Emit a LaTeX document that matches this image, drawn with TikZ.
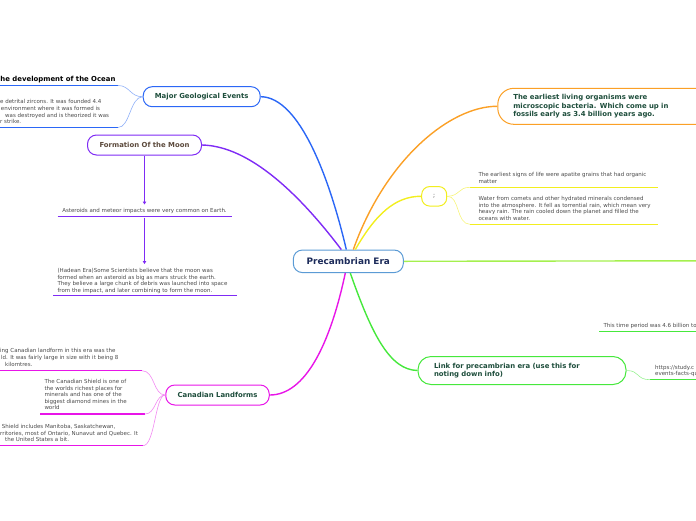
\documentclass[tikz,border=0pt]{standalone}
\usepackage{fontspec}
\setmainfont{DejaVu Sans}
\usetikzlibrary{arrows.meta}
\definecolor{navy}{HTML}{1C2B5A}
\definecolor{cborder}{HTML}{5B9BD5}
\definecolor{tgreen}{HTML}{1D4D3B}
\definecolor{tbrown}{HTML}{5C4A3C}
\definecolor{tgray}{HTML}{4A4A4A}
\definecolor{cblue}{HTML}{2B67F6}
\definecolor{lblue}{HTML}{8FB0F8}
\definecolor{cpurple}{HTML}{7F2BF5}
\definecolor{cmag}{HTML}{E815E8}
\definecolor{lmag}{HTML}{F28AF2}
\definecolor{corange}{HTML}{FBA026}
\definecolor{cyellow}{HTML}{F2EE1F}
\definecolor{lyellow}{HTML}{F7F47A}
\definecolor{clime}{HTML}{A5F04E}
\definecolor{cgreen}{HTML}{46E83C}
\definecolor{lgreen}{HTML}{9AF294}
\begin{document}
\begin{tikzpicture}[x=1pt,y=-1pt,
  topic/.style={draw, rounded corners=9pt, fill=white, line width=1pt,
    font=\bfseries\fontsize{6.9}{8.3}\selectfont, text=tgreen, inner sep=0},
  small/.style={font=\fontsize{5.5}{6.5}\selectfont, text=tgray, inner sep=0, align=left},
  conn/.style={line width=1.4pt},
  subconn/.style={line width=0.6pt},
  uline/.style={line width=1.4pt},
  arr/.style={line width=0.9pt, cpurple, -{Triangle[length=3pt,width=3.5pt]}}]
\useasboundingbox (0,0) rectangle (696,520);
\clip (0,0) rectangle (696,520);

% central node
\node[topic, draw=cborder, text=navy, minimum width=110pt, minimum height=22.5pt,
  font=\bfseries\fontsize{8.9}{10}\selectfont] (c) at (348.3,261.3) {Precambrian Era};

% main topics
\node[topic, draw=cblue, minimum width=117pt, minimum height=20pt] (mge) at (201.7,96.7) {Major Geological Events};
\node[topic, draw=cpurple, text=tbrown, minimum width=114pt, minimum height=20pt] (moon) at (144.5,145) {Formation Of the Moon};
\node[topic, draw=cmag, minimum width=103.5pt, minimum height=20pt] (can) at (217.5,395) {Canadian Landforms};
\node[topic, draw=corange, anchor=west, text width=185pt, inner xsep=15.5pt, minimum height=36pt,
  rounded corners=16pt, align=left, font=\bfseries\fontsize{6.9}{8.5}\selectfont] (org) at (497.3,106.3)
  {The earliest living organisms were\\microscopic bacteria. Which come up in\\fossils early as 3.4 billion years ago.};
\node[topic, draw=cyellow, text=tgray, minimum width=25pt, minimum height=19.5pt, rounded corners=8pt,
  font=\fontsize{6}{7}\selectfont] (semi) at (434.2,196.3) {;};
\node[topic, draw=cgreen, anchor=west, text width=176pt, inner xsep=16pt, minimum height=28pt,
  rounded corners=13pt, align=left] (link) at (417.5,370.5)
  {Link for precambrian era (use this for\\noting down info)};

% main connectors
\draw[conn, cblue] (c.north) ++(-2,0) coordinate (cb) .. controls (330,180) and (300,97) .. (mge.east);
\draw[conn, cpurple] (c.north) ++(-7,0) coordinate (cp) .. controls (300,195) and (250,146) .. (moon.east);
\draw[conn, cmag] (c.south) ++(-3,0) coordinate (cm) .. controls (330,345) and (305,395) .. (can.east);
\draw[conn, corange] (c.north) ++(5,0) coordinate (co) .. controls (385,160) and (450,106) .. (org.west);
\draw[conn, cyellow] (c.north) ++(7,0) coordinate (cy) .. controls (375,215) and (395,196) .. (semi.west);
\draw[conn, cgreen] (c.south) ++(2,0) coordinate (cg) .. controls (372,335) and (390,370) .. (link.west);
\coordinate (rgt) at (700,260.8);
\draw[conn, clime] (c.east) -- (rgt);

% Major Geological Events children
\node[font=\bfseries\fontsize{6.9}{8.3}\selectfont, inner sep=0, anchor=base west] (ocean) at (0.3,81) {he development of the Ocean};
\coordinate (u1r) at (118,85.5); \coordinate (u1l) at (-2,85.5);
\draw[uline, cblue] (u1l) -- (u1r);
\draw[subconn, lblue] (mge.west) .. controls (130,97) and (130,85.5) .. (u1r);
\node[small, anchor=base west] (z1) at (0,103.7) {e detrital zircons. It was founded 4.4};
\node[small, anchor=base west] (z2) at (0.7,110.3) {environment where it was formed is};
\node[small, anchor=base west] (z3) at (5,117) {was destroyed and is theorized it was};
\node[small, anchor=base west] (z4) at (0,123.7) {r strike.};
\coordinate (u2r) at (118,127.5); \coordinate (u2l) at (-2,127.5);
\draw[uline, cblue] (u2l) -- (u2r);
\draw[subconn, lblue] (mge.west) .. controls (130,97) and (130,127.5) .. (u2r);

% Formation of the moon children
\node[small, anchor=base] (ast) at (144.5,212) {Asteroids and meteor impacts were very common on Earth.};
\coordinate (u3l) at (57.5,216.7); \coordinate (u3r) at (232,216.7);
\draw[uline, cpurple] (u3l) -- (u3r);
\coordinate (a1e) at (144.5,204.5);
\draw[arr] (moon.south) -- (a1e);
\node[small, anchor=base west] (had) at (57.3,292.2) {(Hadean Era)Some Scientists believe that the moon was\\formed when an asteroid as big as mars struck the earth.\\They believe a large chunk of debris was launched into space\\from the impact, and later combining to form the moon.};
\coordinate (u4l) at (53.3,295.7); \coordinate (u4r) at (237.3,295.7);
\draw[uline, cpurple] (u4l) -- (u4r);
\coordinate (a2s) at (144.5,217.5); \coordinate (a2e) at (144.5,264);
\draw[arr] (a2s) -- (a2e);

% Canadian landforms children
\node[small, anchor=base west] (k1) at (0,352.7) {ing Canadian landform in this era was the};
\node[small, anchor=base west] (k2) at (1,359.3) {ld. It was fairly large in size with it being 8};
\node[small, anchor=base west] (k3) at (5,366) {kilomtres.};
\coordinate (u5l) at (-2,370.7); \coordinate (u5r) at (142,370.7);
\draw[uline, cmag] (u5l) -- (u5r);
\draw[subconn, lmag] (can.west) .. controls (153,395) and (155,370.7) .. (u5r);
\node[small, anchor=base west] (shield) at (44.3,409.7) {The Canadian Shield is one of\\the worlds richest places for\\minerals and has one of the\\biggest diamond mines in the\\world};
\coordinate (u6l) at (40,414); \coordinate (u6r) at (145,414);
\draw[uline, cmag] (u6l) -- (u6r);
\draw[subconn, lmag] (can.west) .. controls (155,395) and (156,414) .. (u6r);
\node[small, anchor=base west] (p1) at (1.7,428.7) {Shield includes Manitoba, Saskatchewan,};
\node[small, anchor=base west] (p2) at (0,435.3) {rritories, most of Ontario, Nunavut and Quebec. It};
\node[small, anchor=base west] (p3) at (5,441.7) {the United States a bit.};
\coordinate (u7l) at (-2,445.7); \coordinate (u7r) at (143,445.7);
\draw[uline, cmag] (u7l) -- (u7r);
\draw[subconn, lmag] (can.west) .. controls (155,395) and (155,445.7) .. (u7r);

% yellow children
\node[small, anchor=base west] (y1) at (478.3,183) {The earliest signs of life were apatite grains that had organic\\matter};
\coordinate (u8l) at (470,187.3); \coordinate (u8r) at (658,187.3);
\draw[uline, cyellow] (u8l) -- (u8r);
\draw[subconn, lyellow] (semi.east) .. controls (460,196) and (458,187.3) .. (u8l);
\node[small, anchor=base west] (y2) at (478.3,220.2) {Water from comets and other hydrated minerals condensed\\into the atmosphere. It fell as torrential rain, which mean very\\heavy rain. The rain cooled down the planet and filled the\\oceans with water.};
\coordinate (u9l) at (470,224.3); \coordinate (u9r) at (658,224.3);
\draw[uline, cyellow] (u9l) -- (u9r);
\draw[subconn, lyellow] (semi.east) .. controls (460,196) and (456,224.3) .. (u9l);

% green children
\node[small, anchor=base west] (tp) at (603.3,327) {This time period was 4.6 billion to};
\coordinate (u10l) at (599,331.7); \coordinate (u10r) at (700,331.7);
\draw[uline, cgreen] (u10l) -- (u10r);
\node[small, anchor=base west] (url) at (655,375.5) {https://study.c\\events-facts-qu};
\coordinate (u11l) at (650,379.7); \coordinate (u11r) at (700,379.7);
\draw[uline, cgreen] (u11l) -- (u11r);
\draw[subconn, lgreen] (link.east) .. controls (640,370.5) and (636,379.7) .. (u11l);
\end{tikzpicture}
\end{document}
